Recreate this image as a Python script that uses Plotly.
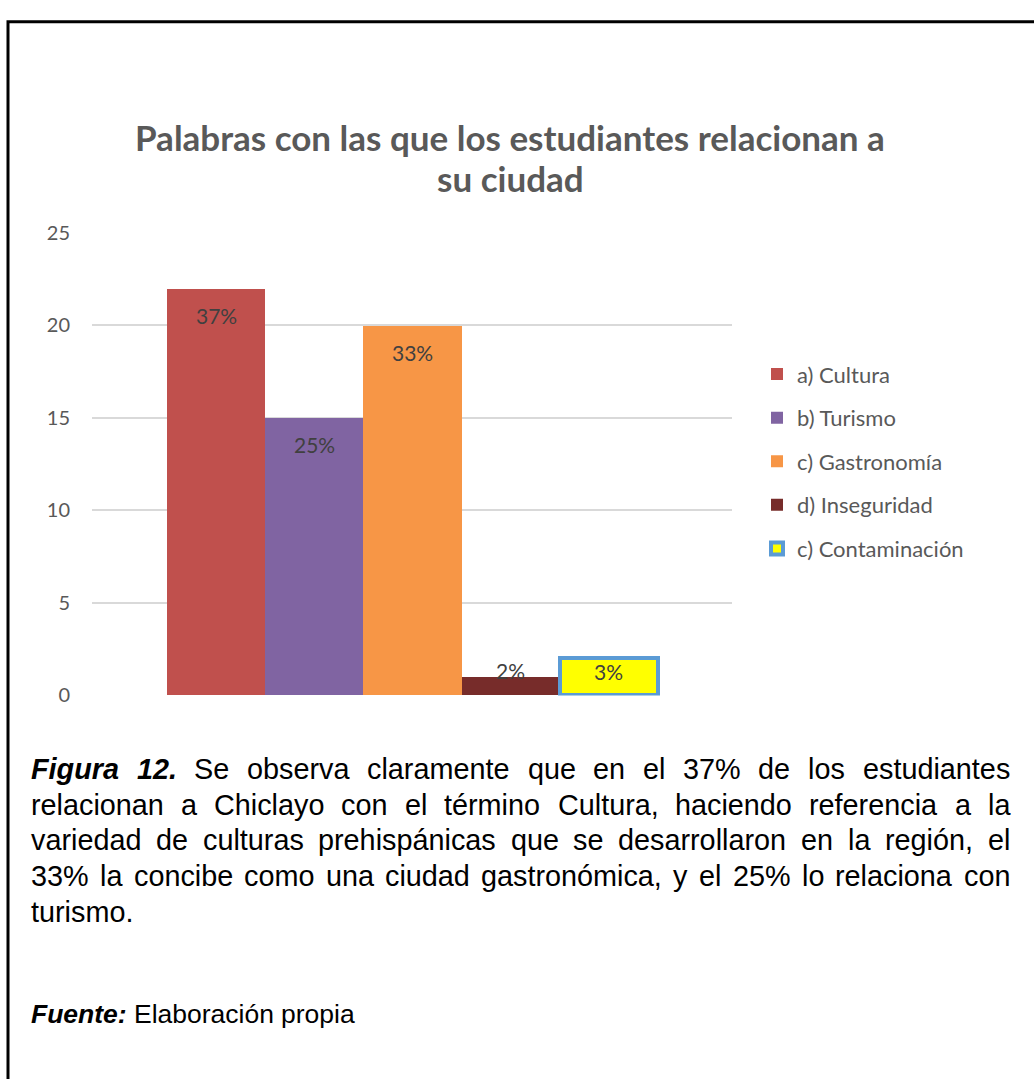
import plotly.graph_objects as go

# ---------------- data ----------------
categories = ["a) Cultura", "b) Turismo", "c) Gastronomía", "d) Inseguridad", "c) Contaminación"]
counts = [22, 15, 20, 1, 2]
percent_labels = ["37%", "25%", "33%", "2%", "3%"]
y_tick_values = [0, 5, 10, 15, 20, 25]

title_lines = ["Palabras con las que los estudiantes relacionan a", "su ciudad"]
caption_lines = [
    "Figura 12. Se observa claramente que en el 37% de los estudiantes",
    "relacionan a Chiclayo con el término Cultura, haciendo referencia a la",
    "variedad de culturas prehispánicas que se desarrollaron en la región, el",
    "33% la concibe como una ciudad gastronómica, y el 25% lo relaciona con",
    "turismo.",
]
bold_words = ["Figura", "12.", "Fuente:"]
source_line = "Fuente: Elaboración propia"

# ---------------- styles ----------------
bar_colors = ["#C0504D", "#8064A2", "#F79646", "#772C2A", "#FFFF00"]
bar_line_colors = ["#C0504D", "#8064A2", "#F79646", "#772C2A", "#5B9BD5"]
bar_line_widths = [0, 0, 0, 0, 4]
label_shift = [-27, -27, -27, 6, -13]

W, H = 1034, 1079
GREY = "#595959"
CHART_FONT = "Lato, Open Sans, sans-serif"
TEXT_FONT = "Liberation Sans, Arial, sans-serif"


def fx(p):
    return p / W


def fy(p):
    return 1 - p / H


fig = go.Figure()
for i, cat in enumerate(categories):
    fig.add_trace(go.Bar(
        x=[cat], y=[counts[i]], name=cat, width=1.0,
        legendgroup=cat,
        marker=dict(color=bar_colors[i],
                    line=dict(color=bar_line_colors[i], width=bar_line_widths[i])),
        hoverinfo="x+y",
    ))

annotations = []
for i, cat in enumerate(categories):
    annotations.append(dict(
        x=cat, y=counts[i], xref="x", yref="y", text=percent_labels[i],
        showarrow=False, yanchor="middle", xanchor="center", yshift=label_shift[i],
        font=dict(family=CHART_FONT, size=21, color="#404040"),
    ))

# title: two centred lines
for k, tl in enumerate(title_lines):
    annotations.append(dict(
        x=fx(510), y=fy(127 + 42 * k), xref="paper", yref="paper", text=f"<b>{tl}</b>",
        showarrow=False, xanchor="center", yanchor="middle",
        font=dict(family=CHART_FONT, size=35, color=GREY),
    ))

# ---- justified caption (Arial / Liberation Sans metrics, units of 1/1000 em)
REG = {' ': 278, 'a': 556, 'b': 556, 'c': 500, 'd': 556, 'e': 556, 'f': 278, 'g': 556,
       'h': 556, 'i': 222, 'j': 222, 'k': 500, 'l': 222, 'm': 833, 'n': 556, 'o': 556,
       'p': 556, 'q': 556, 'r': 333, 's': 500, 't': 278, 'u': 556, 'v': 500, 'w': 722,
       'x': 500, 'y': 500, 'z': 500, 'C': 722, 'E': 667, 'F': 611, 'S': 667, '%': 889,
       ',': 278, '.': 278, ':': 278, 'á': 556, 'é': 556, 'í': 278, 'ó': 556}
BOLD = {'F': 611, 'i': 278, 'g': 611, 'u': 611, 'r': 389, 'a': 556, 'e': 556, 'n': 611,
        't': 333, ':': 333, '.': 278}
for d in "0123456789":
    REG[d] = 556
    BOLD[d] = 556


def word_width(w, size):
    table = BOLD if w in bold_words else REG
    return sum(table.get(ch, 556) for ch in w) * size / 1000.0


def word_html(w):
    return f"<b><i>{w}</i></b>" if w in bold_words else w


def add_line(text, y_px, size, left, right, justify):
    words = text.split(" ")
    widths = [word_width(w, size) for w in words]
    space = REG[' '] * size / 1000.0
    if justify and len(words) > 1:
        gap = (right - left - sum(widths)) / (len(words) - 1)
    else:
        gap = space
    x = left
    for w, wd in zip(words, widths):
        annotations.append(dict(
            x=fx(x), y=fy(y_px), xref="paper", yref="paper", text=word_html(w),
            showarrow=False, xanchor="left", yanchor="middle", borderpad=0,
            font=dict(family=TEXT_FONT, size=size, color="#000000"),
        ))
        x += wd + gap


CAP_SIZE = 28.8
for k, line in enumerate(caption_lines):
    add_line(line, 773 + 36.6 * k, CAP_SIZE, 30, 1009, k < len(caption_lines) - 1)
add_line(source_line, 1024, 26.5, 30, 1009, False)

fig.update_layout(
    width=W, height=H,
    margin=dict(l=0, r=0, t=0, b=0),
    paper_bgcolor="white", plot_bgcolor="white",
    barmode="overlay", bargap=0,
    xaxis=dict(type="category", categoryarray=categories, range=[-1.264, 5.254],
               domain=[fx(92), fx(732)], showticklabels=False, showgrid=False,
               zeroline=False, showline=False, fixedrange=True),
    yaxis=dict(range=[0, 25], tickvals=y_tick_values, domain=[fy(698), fy(225)],
               gridcolor="#D9D9D9", gridwidth=1.5, zeroline=False, showline=False,
               tickfont=dict(family=CHART_FONT, size=20, color=GREY),
               ticklabelstandoff=21, fixedrange=True),
    legend=dict(x=fx(757), xanchor="left", y=fy(348), yanchor="top",
                font=dict(family=CHART_FONT, size=22, color=GREY),
                tracegroupgap=12, bgcolor="rgba(0,0,0,0)", borderwidth=0),
    annotations=annotations,
    shapes=[dict(type="rect", xref="paper", yref="paper",
                 x0=fx(8), x1=1.05, y0=-0.05, y1=fy(9),
                 line=dict(color="black", width=3), fillcolor="rgba(0,0,0,0)",
                 layer="above")],
    showlegend=True,
)

fig.write_html("out.html", config={"displayModeBar": False},
               post_script="document.body.style.margin='0';document.body.style.overflow='hidden';")
